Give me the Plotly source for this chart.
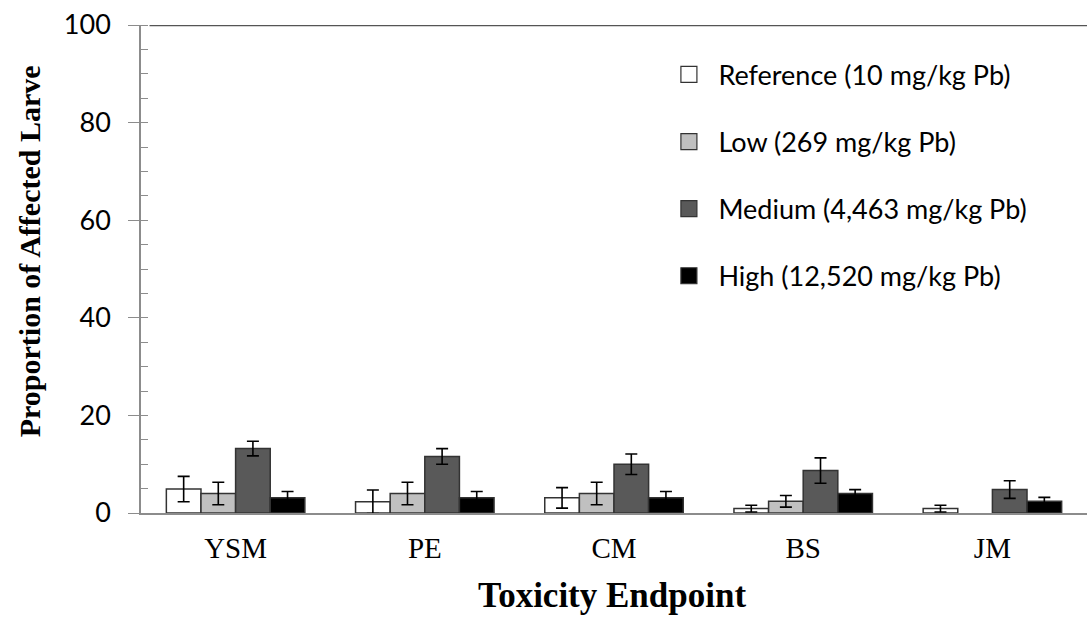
import plotly.graph_objects as go

categories = ["YSM", "PE", "CM", "BS", "JM"]
series_names = ["Reference (10 mg/kg Pb)", "Low (269 mg/kg Pb)",
                "Medium (4,463 mg/kg Pb)", "High (12,520 mg/kg Pb)"]
ref_vals = [4.9, 2.3, 3.1, 0.9, 0.9]
ref_err = [2.6, 2.4, 2.1, 0.7, 0.7]
low_vals = [4.0, 4.0, 4.0, 2.4, None]
low_err = [2.3, 2.3, 2.3, 1.2, None]
med_vals = [13.2, 11.6, 10.0, 8.7, 4.8]
med_err = [1.5, 1.6, 2.1, 2.6, 1.8]
high_vals = [3.1, 3.1, 3.1, 4.0, 2.4]
high_err = [1.3, 1.3, 1.3, 0.8, 0.8]
y_ticks = [0, 20, 40, 60, 80, 100]

fills = ["#ffffff", "#c0c0c0", "#595959", "#000000"]
values = [ref_vals, low_vals, med_vals, high_vals]
errors = [ref_err, low_err, med_err, high_err]

fig = go.Figure()
for i, (name, v, e, c) in enumerate(zip(series_names, values, errors, fills)):
    fig.add_trace(go.Bar(
        x=categories, y=v, name=name, legendgroup=f"g{i}", showlegend=False,
        marker=dict(color=c, line=dict(color="#333333", width=1.5)),
        error_y=dict(type="data", array=e, visible=True, color="#000000",
                     thickness=1.6, width=6),
    ))
# legend entries (square swatches, no data drawn)
for i, (name, c) in enumerate(zip(series_names, fills)):
    fig.add_trace(go.Scatter(
        x=[None], y=[None], mode="markers", name=name, legendgroup=f"g{i}",
        marker=dict(symbol="square", size=16, color=c, line=dict(color="#333333", width=1.2)),
    ))

fig.update_layout(
    width=1087, height=618,
    margin=dict(l=141, r=0, t=25, b=105),
    paper_bgcolor="white", plot_bgcolor="white",
    barmode="group", bargap=0.268, bargroupgap=0,
    showlegend=True,
    legend=dict(
        x=0.548, y=0.948, xanchor="left", yanchor="top",
        font=dict(family="Lato", size=27, color="#000000"),
        tracegroupgap=29, traceorder="grouped", itemsizing="trace",
        bgcolor="rgba(0,0,0,0)", itemwidth=49,
    ),
    font=dict(family="Lato", color="#000000"),
)

fig.update_xaxes(
    range=[-0.5, 4.5],
    showline=True, linecolor="#8c8c8c", linewidth=1.5,
    ticks="", showgrid=False, zeroline=False,
    tickfont=dict(family="Liberation Serif", size=29, color="#000000"),
    ticklabelstandoff=8,
)
fig.update_yaxes(
    range=[0, 100], tickvals=y_ticks,
    showline=True, linecolor="#8c8c8c", linewidth=1.5,
    ticks="outside", ticklen=11, tickcolor="#8c8c8c", tickwidth=1.2,
    minor=dict(dtick=5, ticks="inside", ticklen=7, tickcolor="#8c8c8c", tickwidth=1.2, showgrid=False),
    showgrid=False, zeroline=False,
    tickfont=dict(family="Lato", size=27, color="#000000"),
    ticklabelstandoff=12,
)

# top border line at 100
fig.add_shape(type="line", xref="paper", yref="y", x0=0.009, x1=1.0, y0=100, y1=100,
              line=dict(color="#555555", width=2.5))

fig.add_annotation(text="<b>Toxicity Endpoint</b>", xref="paper", yref="paper",
                   x=0.498, y=-0.17, xanchor="center", yanchor="middle", showarrow=False,
                   font=dict(family="Liberation Serif", size=35, color="#000000"))
fig.add_annotation(text="<b>Proportion of Affected Larve</b>", xref="paper", yref="paper",
                   x=-0.117, y=0.537, xanchor="center", yanchor="middle", showarrow=False,
                   textangle=-90,
                   font=dict(family="Liberation Serif", size=30, color="#000000"))

fig.write_html("out.html")
